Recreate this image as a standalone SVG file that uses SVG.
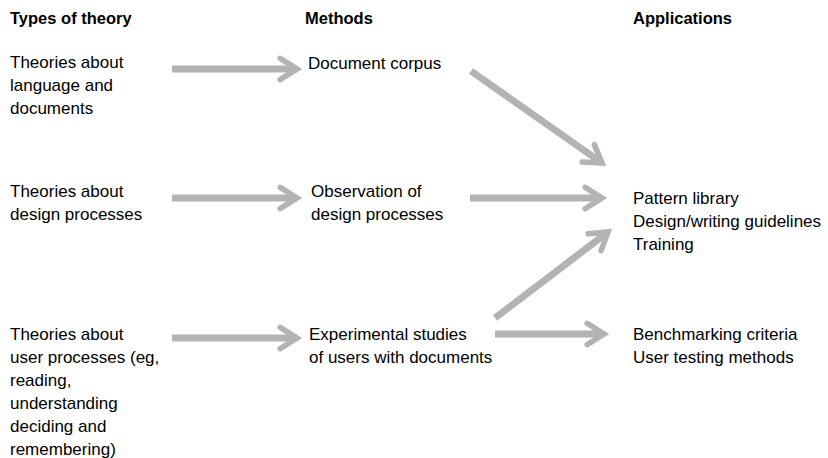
<svg xmlns="http://www.w3.org/2000/svg" width="828" height="458" viewBox="0 0 828 458">
<style>
text{font-family:"Liberation Sans",Arial,sans-serif;font-size:17px;fill:#000}
.h{font-weight:bold;font-size:16.5px}
.c{stroke:#b3b3b3;stroke-width:7;fill:none;stroke-linecap:butt;stroke-linejoin:miter}
</style>
<defs>
<marker id="ah" viewBox="0 0 10 10" refX="7" refY="5" markerWidth="4" markerHeight="5" markerUnits="strokeWidth" orient="auto" overflow="visible">
<path d="M1,1.2 L7,5 L1,8.8" fill="none" stroke="#b3b3b3" stroke-width="2" stroke-linecap="round" stroke-linejoin="miter"/>
</marker>
</defs>
<g id="headers">
<text class="h" x="10" y="24">Types of theory</text>
<text class="h" x="305" y="24">Methods</text>
<text class="h" x="633" y="24">Applications</text>
</g>
<g id="theory1"><text x="10" y="68">Theories about</text><text x="10" y="91">language and</text><text x="10" y="114">documents</text></g>
<g id="theory2"><text x="10" y="197">Theories about</text><text x="10" y="220">design processes</text></g>
<g id="theory3"><text x="10" y="340">Theories about</text><text x="10" y="363">user processes (eg,</text><text x="10" y="386">reading,</text><text x="10" y="409">understanding</text><text x="10" y="432">deciding and</text><text x="10" y="455">remembering)</text></g>
<g id="method1"><text x="308" y="69">Document corpus</text></g>
<g id="method2"><text x="311" y="197">Observation of</text><text x="311" y="220">design processes</text></g>
<g id="method3"><text x="309" y="340">Experimental studies</text><text x="309" y="363">of users with documents</text></g>
<g id="app1"><text x="633" y="204">Pattern library</text><text x="633" y="227">Design/writing guidelines</text><text x="633" y="250">Training</text></g>
<g id="app2"><text x="633" y="340">Benchmarking criteria</text><text x="633" y="363">User testing methods</text></g>
<g id="connectors">
<line class="c" x1="172" y1="69" x2="297" y2="69" marker-end="url(#ah)"/>
<line class="c" x1="172" y1="198" x2="297" y2="198" marker-end="url(#ah)"/>
<line class="c" x1="172" y1="338" x2="297" y2="338" marker-end="url(#ah)"/>
<line class="c" x1="471" y1="71" x2="602" y2="163" marker-end="url(#ah)"/>
<line class="c" x1="470" y1="198" x2="602" y2="198" marker-end="url(#ah)"/>
<line class="c" x1="495" y1="318" x2="608" y2="232" marker-end="url(#ah)"/>
<line class="c" x1="495" y1="334" x2="604" y2="334" marker-end="url(#ah)"/>
</g>
</svg>
